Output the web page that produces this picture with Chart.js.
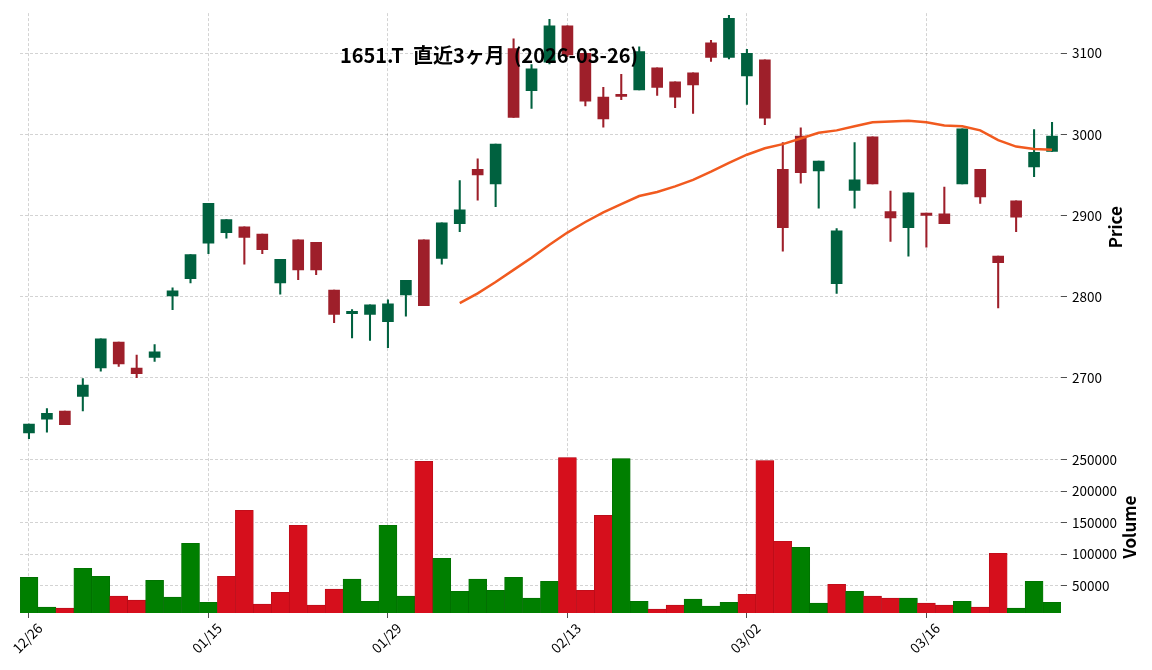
<!DOCTYPE html>
<html lang="ja">
<head>
<meta charset="utf-8">
<title>1651.T 直近3ヶ月</title>
<script src="https://cdn.jsdelivr.net/npm/chart.js@4.4.1/dist/chart.umd.min.js"></script>
<style>
  html, body { margin: 0; padding: 0; background: #fff; }
  #wrap { width: 1152px; height: 670px; }
</style>
</head>
<body>
<div id="wrap"><canvas id="candle-chart" width="1152" height="670"></canvas></div>
<script>
// trading days shown on the chart
const dates = [
  '12/26', '12/29', '12/30', '01/05', '01/06', '01/07', '01/08', '01/09', '01/13', '01/14',
  '01/15', '01/16', '01/19', '01/20', '01/21', '01/22', '01/23', '01/26', '01/27', '01/28',
  '01/29', '01/30', '02/02', '02/03', '02/04', '02/05', '02/06', '02/09', '02/10', '02/12',
  '02/13', '02/16', '02/17', '02/18', '02/19', '02/20', '02/24', '02/25', '02/26', '02/27',
  '03/02', '03/03', '03/04', '03/05', '03/06', '03/09', '03/10', '03/11', '03/12', '03/13',
  '03/16', '03/17', '03/18', '03/19', '03/23', '03/24', '03/25', '03/26'
];

const opens = [
  2632, 2649, 2659, 2677, 2712, 2744, 2712, 2725, 2801, 2822,
  2866, 2879, 2886, 2877, 2817, 2870, 2867, 2808, 2779, 2778,
  2769, 2802, 2870, 2847, 2890, 2957, 2939, 3106, 3054, 3089,
  3134, 3100, 3046, 3049, 3055, 3082, 3065, 3076, 3113, 3095,
  3072, 3092, 2957, 2998, 2955, 2816, 2931, 2997, 2905, 2885,
  2903, 2902, 2939, 2957, 2850, 2918, 2960, 2979
];
const highs = [
  2643, 2662, 2659, 2699, 2748, 2744, 2728, 2741, 2811, 2852,
  2915, 2895, 2886, 2877, 2846, 2870, 2867, 2808, 2784, 2790,
  2796, 2820, 2870, 2891, 2943, 2970, 2988, 3118, 3086, 3142,
  3134, 3100, 3058, 3074, 3108, 3082, 3065, 3076, 3116, 3147,
  3105, 3092, 2990, 3008, 2967, 2884, 2990, 2997, 2930, 2928,
  2903, 2935, 3007, 2957, 2850, 2918, 3006, 3015
];
const lows = [
  2625, 2633, 2642, 2659, 2708, 2714, 2700, 2720, 2784, 2817,
  2853, 2872, 2840, 2853, 2803, 2821, 2827, 2768, 2749, 2746,
  2737, 2776, 2789, 2840, 2880, 2919, 2911, 3021, 3032, 3087,
  3096, 3035, 3009, 3043, 3055, 3048, 3033, 3026, 3090, 3093,
  3037, 3012, 2856, 2940, 2909, 2804, 2909, 2939, 2868, 2850,
  2861, 2890, 2939, 2915, 2786, 2880, 2948, 2979
];
const closes = [
  2643, 2656, 2642, 2691, 2748, 2717, 2705, 2732, 2807, 2852,
  2915, 2895, 2873, 2858, 2846, 2833, 2833, 2778, 2782, 2790,
  2791, 2820, 2789, 2891, 2907, 2950, 2988, 3021, 3081, 3134,
  3098, 3041, 3019, 3047, 3102, 3058, 3046, 3061, 3095, 3143,
  3100, 3020, 2885, 2953, 2967, 2881, 2944, 2939, 2897, 2928,
  2900, 2890, 3007, 2923, 2842, 2898, 2978, 2998
];
const volumes = [
  63000, 15600, 14000, 77500, 64800, 33100, 26700, 58500, 31500, 117200,
  23500, 64800, 169600, 20400, 39400, 145800, 18800, 44200, 60100, 25100,
  145800, 33100, 247400, 93400, 41000, 60100, 42600, 63200, 29900, 56900,
  253700, 42600, 161600, 252100, 25100, 12400, 18800, 28300, 17200, 23500,
  36200, 248900, 120400, 110800, 22000, 52100, 41000, 33100, 29900, 29900,
  22000, 18800, 25100, 15600, 101300, 14000, 56900, 23500
];
// 25-day moving average, starts on the 25th session
const ma25 = [
  null, null, null, null, null, null, null, null, null, null,
  null, null, null, null, null, null, null, null, null, null,
  null, null, null, null, 2792, 2804, 2818, 2833, 2848, 2864,
  2879, 2892, 2904, 2914, 2924, 2929, 2936, 2944, 2954, 2965,
  2975, 2983, 2988, 2995, 3002, 3005, 3010, 3015, 3016, 3017,
  3015, 3011, 3010, 3005, 2993, 2985, 2982, 2981
];

const priceTicks = [2700, 2800, 2900, 3000, 3100];
const volumeTicks = [50000, 100000, 150000, 200000, 250000];
const dateTickEvery = 10;

const UP = '#00613f';
const DOWN = '#9e1f2a';
const VOL_UP = '#007f00';
const VOL_DOWN = '#d60f1c';
const GRID = 'rgba(0, 0, 0, 0.22)';
const FONT = '"Noto Sans CJK JP", "Noto Sans", sans-serif';

const candleColors = closes.map((c, i) => c >= opens[i] ? UP : DOWN);
const volColors = closes.map((c, i) => c > (i ? closes[i - 1] : opens[0]) ? VOL_UP : VOL_DOWN);
const volEdges = volColors.map(c => c === VOL_UP ? '#006a00' : '#b00c18');

// title and rotated axis titles, drawn on top like the original
const textPlugin = {
  id: 'chartText',
  afterDraw(chart) {
    const ctx = chart.ctx;
    const { y, yVol } = chart.scales;
    ctx.save();
    ctx.fillStyle = '#000';
    ctx.textAlign = 'center';
    ctx.textBaseline = 'middle';
    ctx.font = 'bold 20px ' + FONT;
    ctx.fillText('1651.T  直近3ヶ月  (2026-03-26)', 489, 55);
    ctx.font = 'bold 17px ' + FONT;
    [[y, 'Price', 1116], [yVol, 'Volume', 1130]].forEach(([s, text, x]) => {
      ctx.save();
      ctx.translate(x, (s.top + s.bottom) / 2);
      ctx.rotate(-Math.PI / 2);
      ctx.fillText(text, 0, 0);
      ctx.restore();
    });
    ctx.restore();
  }
};

const tickFont = { family: FONT, size: 13.5 };

new Chart(document.getElementById('candle-chart'), {
  type: 'bar',
  data: {
    labels: dates,
    datasets: [
      {
        type: 'line',
        label: 'MA25',
        data: ma25,
        yAxisID: 'y',
        borderColor: '#f15a1f',
        borderWidth: 2.5,
        pointRadius: 0,
        tension: 0,
        order: 0
      },
      {
        label: 'body',
        data: opens.map((o, i) => [o, closes[i]]),
        yAxisID: 'y',
        backgroundColor: candleColors,
        borderWidth: 0,
        barThickness: 11,
        minBarLength: 2,
        grouped: false,
        order: 1
      },
      {
        label: 'wick',
        data: lows.map((l, i) => [l, highs[i]]),
        yAxisID: 'y',
        backgroundColor: candleColors,
        borderWidth: 0,
        barThickness: 1.4,
        grouped: false,
        order: 2
      },
      {
        label: 'Volume',
        data: volumes,
        yAxisID: 'yVol',
        backgroundColor: volColors,
        borderColor: volEdges,
        borderWidth: 0.6,
        barPercentage: 1,
        categoryPercentage: 1,
        grouped: false,
        order: 3
      }
    ]
  },
  options: {
    responsive: false,
    animation: false,
    devicePixelRatio: 1,
    layout: { padding: { left: 20, top: 12, right: 0, bottom: 0 } },
    plugins: {
      legend: { display: false },
      tooltip: { enabled: false }
    },
    scales: {
      x: {
        type: 'category',
        offset: true,
        grid: {
          offset: false,
          lineWidth: 0.8,
          color: c => c.index % dateTickEvery === 0 ? GRID : 'transparent',
          tickColor: c => c.index % dateTickEvery === 0 ? '#222' : 'transparent',
          tickLength: 5
        },
        border: { display: false, dash: [3, 2] },
        ticks: {
          autoSkip: false,
          maxRotation: 45,
          minRotation: 45,
          labelOffset: 11,
          padding: 2,
          color: '#000',
          font: tickFont,
          callback: (v, i) => i % dateTickEvery === 0 ? dates[i] : ''
        },
        afterFit: s => { s.height = 57; }
      },
      y: {
        position: 'right',
        stack: 'panels',
        stackWeight: 429,
        min: 2621.6,
        max: 3149.6,
        afterBuildTicks: s => { s.ticks = priceTicks.map(v => ({ value: v })); },
        grid: { color: GRID, lineWidth: 0.8, tickColor: '#222', tickLength: 6 },
        border: { display: false, dash: [3, 2] },
        ticks: { padding: 5, color: '#000', font: tickFont, callback: v => String(v) },
        afterFit: s => { s.width = 91; }
      },
      yVol: {
        position: 'right',
        stack: 'panels',
        stackWeight: 172,
        min: 6350,
        max: 279400,
        afterBuildTicks: s => { s.ticks = volumeTicks.map(v => ({ value: v })); },
        grid: { color: GRID, lineWidth: 0.8, tickColor: '#222', tickLength: 6 },
        border: { display: false, dash: [3, 2] },
        ticks: { padding: 5, color: '#000', font: tickFont, callback: v => String(v) },
        afterFit: s => { s.width = 91; }
      }
    }
  },
  plugins: [textPlugin]
});
</script>
</body>
</html>
